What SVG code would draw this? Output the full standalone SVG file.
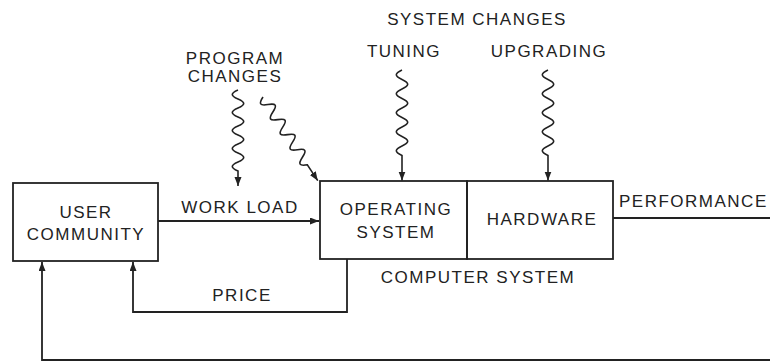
<svg xmlns="http://www.w3.org/2000/svg" width="770" height="362" viewBox="0 0 770 362">
<style>
text{font-family:"Liberation Sans",Arial,sans-serif;font-size:17px;letter-spacing:1.5px;fill:#222;text-anchor:middle}
.box{fill:none;stroke:#222;stroke-width:1.8}
.ln{fill:none;stroke:#222;stroke-width:1.8}
.wv{fill:none;stroke:#222;stroke-width:1.6}
</style>
<defs>
<marker id="ah" markerUnits="userSpaceOnUse" markerWidth="10" markerHeight="8" refX="9" refY="3.5" orient="auto">
<path d="M0,0 L9,3.5 L0,7 z" fill="#222"/>
</marker>
</defs>
<rect width="770" height="362" fill="#fff"/>

<g id="user-community">
<rect class="box" x="13" y="183" width="145" height="78"/>
<text x="86" y="218">USER</text>
<text x="86" y="240">COMMUNITY</text>
</g>

<g id="computer-system">
<g id="operating-system">
<rect class="box" x="320" y="181" width="147" height="78"/>
<text x="396" y="215">OPERATING</text>
<text x="396" y="238">SYSTEM</text>
</g>
<g id="hardware">
<rect class="box" x="467" y="181" width="146" height="78"/>
<text x="542" y="225">HARDWARE</text>
</g>
<text x="478" y="283">COMPUTER SYSTEM</text>
</g>

<g id="labels">
<text x="235" y="64">PROGRAM</text>
<text x="235" y="82">CHANGES</text>
<text x="477" y="25">SYSTEM CHANGES</text>
<text x="404" y="57">TUNING</text>
<text x="549" y="57">UPGRADING</text>
</g>

<g id="connectors">
<!-- work load -->
<path class="ln" d="M158,221 L319,221" marker-end="url(#ah)"/>
<text x="240" y="213">WORK LOAD</text>
<!-- price -->
<path class="ln" d="M347,259 L347,312 L133,312 L133,262" marker-end="url(#ah)"/>
<text x="242" y="301">PRICE</text>
<!-- performance feedback -->
<path class="ln" d="M613,218 L770,218"/>
<text x="619" y="207" style="text-anchor:start">PERFORMANCE</text>
<path class="ln" d="M770,360 L42,360 L42,262" marker-end="url(#ah)"/>
<!-- program changes vertical -->
<path class="wv" d="M238,90 c-7.6,3.3 -7.6,5.7 0,9 s7.6,5.7 0,9 s-7.6,5.7 0,9 s7.6,5.7 0,9 s-7.6,5.7 0,9 s7.6,5.7 0,9 s-7.6,5.7 0,9 s7.6,5.7 0,9 s-7.6,5.7 0,9 l0,15" marker-end="url(#ah)"/>
<!-- program changes diagonal -->
<path class="wv" transform="translate(263,97) rotate(-33.2)" d="M0,0 c-7.6,3.3 -7.6,5.7 0,9 s7.6,5.7 0,9 s-7.6,5.7 0,9 s7.6,5.7 0,9 s-7.6,5.7 0,9 s7.6,5.7 0,9 s-7.6,5.7 0,9 s7.6,5.7 0,9 s-7.6,5.7 0,9 l0,19" marker-end="url(#ah)"/>
<!-- tuning -->
<path class="wv" d="M402,70 c-7.6,3.5 -7.6,6 0,9.5 s7.6,6 0,9.5 s-7.6,6 0,9.5 s7.6,6 0,9.5 s-7.6,6 0,9.5 s7.6,6 0,9.5 s-7.6,6 0,9.5 s7.6,6 0,9.5 s-7.6,6 0,9.5 l0,25" marker-end="url(#ah)"/>
<!-- upgrading -->
<path class="wv" d="M548,70 c-7.6,3.5 -7.6,6 0,9.5 s7.6,6 0,9.5 s-7.6,6 0,9.5 s7.6,6 0,9.5 s-7.6,6 0,9.5 s7.6,6 0,9.5 s-7.6,6 0,9.5 s7.6,6 0,9.5 s-7.6,6 0,9.5 l0,25" marker-end="url(#ah)"/>
</g>
</svg>
